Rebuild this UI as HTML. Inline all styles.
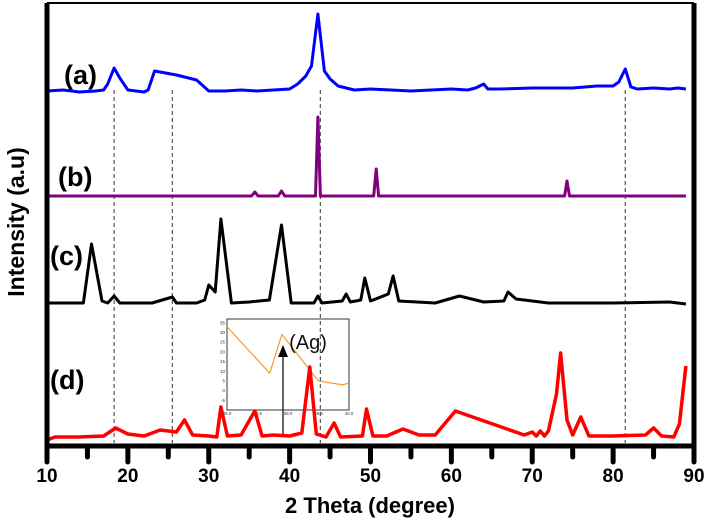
<!DOCTYPE html>
<html><head><meta charset="utf-8"><style>
body{margin:0;background:#fff;}
svg{display:block;font-family:"Liberation Sans",sans-serif;}
</style></head><body>
<svg id="chart" width="708" height="525"></svg>
<script>
// data: 2theta (deg) and intensity (pixel-scale arbitrary units, with offsets)
const xA=[10,12,14,16,17,17.5,18.3,19,20,22,22.5,23.3,26,28.5,30,32,34,36,38,40,41,42,42.7,43.5,44.3,45,46,47,48,50,55,60,62,63,64,64.5,66,70,75,78,80,80.7,81.5,82.2,83,85,87,88,89];
const yA=[355,356,354,355,356,362,378,368,356,354,356,375,371,366,355,355,356,355,356,357,362,370,380,432,375,367,360,358,356,357,355,357,356,358,362,357,357,358,358,360,360,364,377,359,357,358,357,358,357];
const xB=[10,35.3,35.7,36.1,38.6,39,39.4,43.2,43.5,43.8,50.4,50.7,51,74,74.3,74.6,89];
const yB=[250,250,254,250,250,255,250,250,329,250,250,277,250,250,265,250,250];
const xC=[10,14.5,15.5,16.8,17.5,18.3,19,23,25.5,26,28.5,29.5,30,30.8,31.5,32.8,35,37.5,39,40.2,43,43.5,44,46.5,47,47.5,48.8,49.3,50,52.2,52.8,53.5,58,61,64,66.5,67,68,72,80,87,89];
const yC=[143,143,202,145,143,150,143,143,149,143,143,146,161,154,227,143,144,146,221,143,143,150,143,145,152,144,146,168,145,152,170,145,143,150,144,145,154,147,143,143,144,142];
const xD=[10,11,14,17,18.5,20,22,24,26,27,28,30,31,31.5,32.3,34,35.7,36.6,38,40,41.5,42.5,43.3,44.5,45.5,46.3,49,49.5,50.3,52,54,56,58,60.5,69,70,70.5,71,71.5,72,73,73.5,74.3,75,76,77,80,84,85,86,87.5,88.2,89];
const yD=[4,7,7,8,16,10,8,14,12,24,9,8,7,37,8,9,33,8,9,8,11,77,10,7,21,7,8,35,8,8,15,9,9,33,9,12,8,13,8,13,50,91,24,9,27,8,8,9,16,8,7,20,78];
const insX=[38.0,38.7,38.9,39.5,39.9,40.0];
const insY=[33,9,29,5,3,4];
const refLines=[18.3,25.5,43.8,81.5];
const xTicks=[10,20,30,40,50,60,70,80,90];

const NS="http://www.w3.org/2000/svg";
const svg=document.getElementById('chart');
function mk(t,a,p){const e=document.createElementNS(NS,t);for(const k in a)e.setAttribute(k,a[k]);(p||svg).appendChild(e);return e;}
const X=d=>47+(d-10)*(694-47)/80;
const Y=v=>446-v;

// inset (drawn first so series overlap it)
const ix0=227,ix1=349,iy0=319,iy1=410;
const IX=v=>ix0+(v-38)/2*(ix1-ix0);
const IY=v=>iy1-(v+10)/47*(iy1-iy0);
const ib=mk('rect',{x:ix0,y:iy0,width:ix1-ix0,height:iy1-iy0,fill:'#fff',stroke:'#333','stroke-width':1});


[-5,0,5,10,15,20,25,30,35].forEach(v=>{const t=mk('text',{x:ix0-2,y:IY(v)+1.5,'font-size':4.5,'text-anchor':'end',fill:'#333'});t.textContent=v;

});
[38.0,38.5,39.0,39.5,40.0].forEach(v=>{const t=mk('text',{x:IX(v),y:iy1+5,'font-size':4.5,'text-anchor':'middle',fill:'#333'});t.textContent=v.toFixed(1);

});
const ip=mk('polyline',{points:insX.map((x,i)=>IX(x)+','+IY(insY[i])).join(' '),fill:'none',stroke:'#f39a2e','stroke-width':1.2});


const ag=mk('text',{x:308,y:349,'font-size':20,'text-anchor':'middle',fill:'#111'});ag.textContent='(Ag)';


const ar=mk('line',{x1:283,x2:283,y1:434,y2:352,stroke:'#333','stroke-width':1.5});


const ah=mk('polygon',{points:'283,345 278,357 288,357',fill:'#000'});



refLines.forEach(d=>{const l=mk('line',{x1:X(d),x2:X(d),y1:90,y2:443,stroke:'#555','stroke-width':1.2,'stroke-dasharray':'4,3'});

});

function series(xs,ys,col,w,name,off){
 const pts=xs.map((x,i)=>X(x).toFixed(1)+','+(Y(ys[i]+off)).toFixed(1)).join(' ');
 const p=mk('polyline',{points:pts,fill:'none',stroke:col,'stroke-width':w,'stroke-linejoin':'round'});
 
 
}
series(xA,yA,'#0000ff',3,'series-a',0);
series(xB,yB,'#800080',3,'series-b',0);
series(xC,yC,'#000',3,'series-c',0);
series(xD,yD,'#ff0000',3.5,'series-d',2);

// frame
const fr=mk('path',{d:'M47,3 V446 H694 V3',fill:'none',stroke:'#000','stroke-width':5});


const topEdge=mk('line',{x1:47,x2:694,y1:3,y2:3,stroke:'#000','stroke-width':2});


for(let d=10;d<=90;d+=5){const maj=d%10===0;const t=mk('line',{x1:X(d),x2:X(d),y1:446,y2:maj?462:457,stroke:'#000','stroke-width':5,'stroke-linecap':'round'});

}
xTicks.forEach(d=>{const t=mk('text',{x:X(d),y:482,'font-size':19,'font-weight':'bold','text-anchor':'middle'});t.textContent=d;

});
const xl=mk('text',{x:370,y:513,'font-size':22,'font-weight':'bold','text-anchor':'middle'});xl.textContent='2 Theta (degree)';


const yl=mk('text',{x:0,y:0,'font-size':23,'font-weight':'bold','text-anchor':'middle',transform:'translate(24,222) rotate(-90)'});yl.textContent='Intensity (a.u)';


[['(a)',64,84],['(b)',58,186],['(c)',50,265],['(d)',50,389]].forEach(([s,x,y])=>{const t=mk('text',{x:x,y:y,'font-size':27,'font-weight':'bold'});t.textContent=s;

});
</script>
</body></html>
